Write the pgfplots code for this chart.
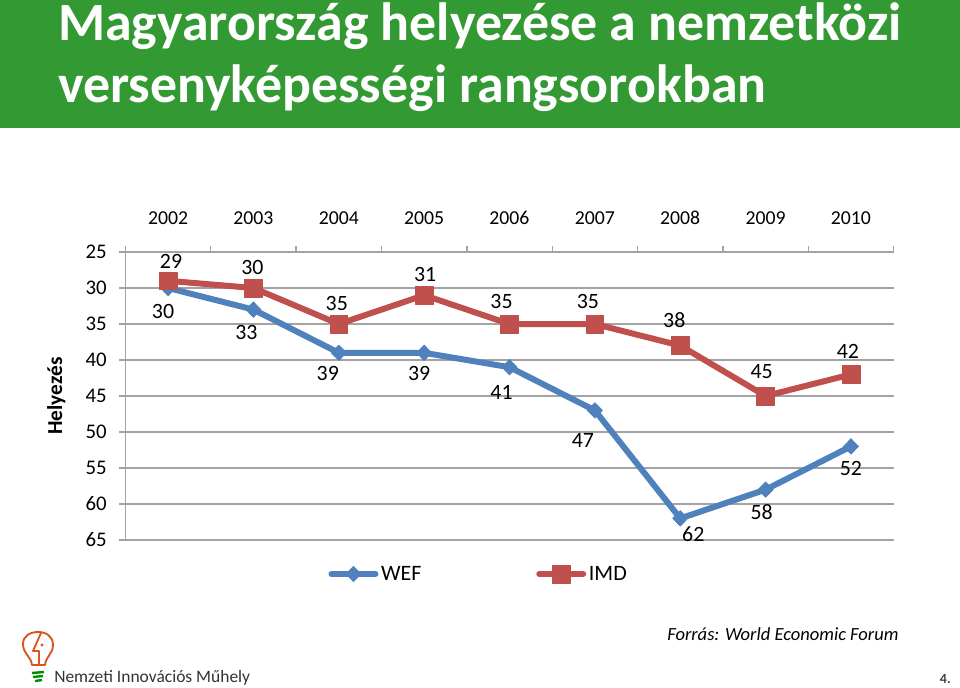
\documentclass[border=0pt]{standalone}
\usepackage{fontspec}
\setmainfont{Carlito}
\usepackage{pgfplots}
\usepackage{pgfplotstable}
\pgfplotsset{compat=1.18}
\definecolor{band}{HTML}{339933}
\definecolor{wef}{HTML}{4F81BD}
\definecolor{imd}{HTML}{C0504D}
\definecolor{gridc}{HTML}{A3A3A3}
\definecolor{bulb}{HTML}{D9541E}

% year rank label-offset (px, dy is downwards)
\pgfplotstableread{
x y dx dy
2002 30 -5 23
2003 33 -7 23
2004 39 -11 21
2005 39 -5 21
2006 41 -8 25
2007 47 -12 30
2008 62 13 16
2009 58 -4 23
2010 52 0 22
}\wef
\pgfplotstableread{
x y dx dy
2002 29 3 -19
2003 30 -1 -21
2004 35 -2 -21
2005 31 1 -21
2006 35 -8 -23
2007 35 -7 -23
2008 38 -6 -25
2009 45 -4 -24
2010 42 -3 -23
}\imd

\pgfplotsset{
  labelled/.style={
    nodes near coords,
    point meta=y,
    visualization depends on={\thisrow{dx} \as \dxv},
    visualization depends on={\thisrow{dy} \as \dyv},
    every node near coord/.style={
      anchor=center, inner sep=0pt, text=black,
      font=\fontsize{16.4pt}{18pt}\selectfont,
      xshift=0.75pt*\dxv, yshift=-0.75pt*\dyv,
      /pgf/number format/assume math mode=true
    },
  },
}

\begin{document}
\begin{tikzpicture}
\useasboundingbox (0,0) rectangle (720pt,515.25pt);
\fill[band] (0,515.25pt-96pt) rectangle (720pt,515.25pt);

\begin{axis}[
  at={(94.05pt,110.25pt)}, anchor=south west,
  scale only axis,
  width=576.2pt, height=216pt,
  xmin=2001.5, xmax=2010.5,
  ymin=25, ymax=65,
  y dir=reverse,
  clip=false,
  axis x line=top,
  axis y line=left,
  axis line style={gridc, line width=1.2pt, -},
  xtick={2002,...,2010},
  minor xtick={2001.5,2002.5,...,2010.5},
  ytick={25,30,...,65},
  ymajorgrids,
  grid style={gridc, line width=1.1pt},
  tick style={gridc, line width=1pt},
  tick align=outside,
  major tick length=4.5pt,
  minor tick length=4.5pt,
  x tick style={draw=none},
  minor x tick style={draw=gridc, line width=1pt},
  xticklabel style={yshift=12.5pt, font=\fontsize{14.8pt}{18pt}\selectfont},
  yticklabel style={font=\fontsize{15.6pt}{18pt}\selectfont, xshift=-6pt},
  /pgf/number format/1000 sep={},
  /pgf/number format/assume math mode=true,
  ylabel={\textbf{Helyezés}},
  every axis y label/.style={at={(axis description cs:-0.0898,0.5)}, rotate=90, anchor=center,
    font=\fontsize{16pt}{18pt}\selectfont},
  legend columns=2,
  legend style={
    at={(0.264,-0.118)}, anchor=west, draw=none, fill=none, inner sep=0pt,
    font=\fontsize{16.5pt}{18pt}\selectfont,
    /tikz/every even column/.append style={column sep=84pt},
  },
  legend image code/.code={
    \draw[#1, mark repeat=2, mark phase=2] plot coordinates {(0pt,0pt) (16.5pt,0pt) (33pt,0pt)};
  },
]
\addplot[wef, line width=4.5pt, line join=round, line cap=round, mark=diamond*,
  mark size=5.8pt, mark options={solid, fill=wef, line width=0.5pt, xscale=1.3}, labelled]
  table[x=x, y=y] {\wef};
\addlegendentry{WEF}
\addplot[imd, line width=4.5pt, line join=round, line cap=round, mark=square*,
  mark size=6.7pt, mark options={solid, fill=imd, line width=0.5pt}, labelled]
  table[x=x, y=y] {\imd};
\addlegendentry{IMD}
\end{axis}

\begin{scope}[x=0.75pt, y=-0.75pt, shift={(0pt,515.25pt)}]
  \node[anchor=base west, text=white, inner sep=0pt, font=\fontsize{40.4pt}{48pt}\selectfont\bfseries] at (58,41) {Magyarország helyezése a nemzetközi};
  \node[anchor=base west, text=white, inner sep=0pt, font=\fontsize{40.4pt}{48pt}\selectfont\bfseries] at (58,103) {versenyképességi rangsorokban};
  \node[anchor=west, inner sep=0pt, font=\fontsize{13.9pt}{18pt}\selectfont\itshape] at (667,634) {Forrás: World Economic Forum};
  \node[anchor=west, inner sep=0pt, text=black!80, font=\fontsize{13.1pt}{16pt}\selectfont] at (54,678) {Nemzeti Innovációs Műhely};
  \node[anchor=east, inner sep=0pt, text=black!75, font=\fontsize{10.5pt}{12pt}\selectfont\bfseries] at (951,679) {4.};
  % lamp logo
  \draw[bulb, line width=1.4pt, line join=round]
    (32,665) .. controls (31,656) and (23,654) .. (23,644)
    .. controls (23,636) and (30,632) .. (38,632)
    .. controls (46,632) and (53,636) .. (53,645)
    .. controls (53,654) and (46,656) .. (45,665) -- cycle;
  \draw[bulb, line width=1.4pt, line join=round]
    (41,633) -- (33,651) -- (39,651) -- (39,665);
  \fill[bulb] (42,645) circle (1.6);
  \draw[green!55!black, line width=1.8pt] (32,673) -- (44,672) (33,677) -- (43,676) (35,681) -- (42,680);
\end{scope}
\end{tikzpicture}
\end{document}
